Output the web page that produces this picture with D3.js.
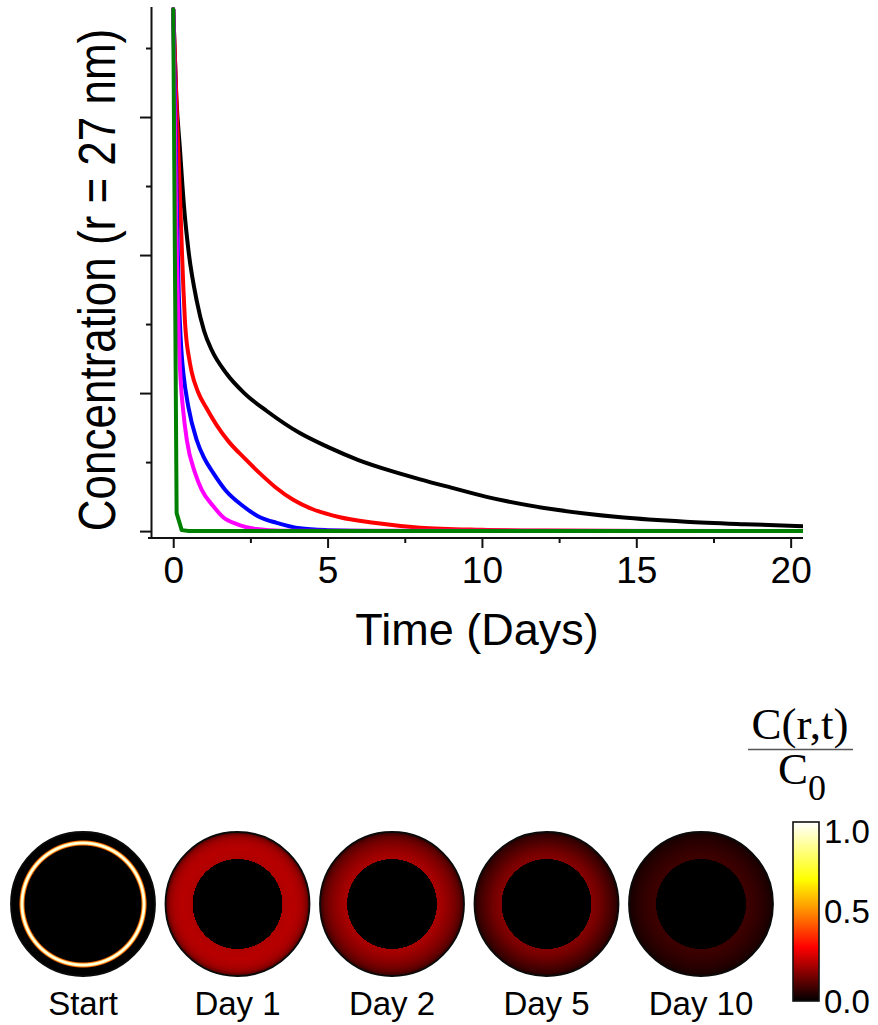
<!DOCTYPE html>
<html>
<head>
<meta charset="utf-8">
<script src="https://cdn.jsdelivr.net/npm/d3@7"></script>
<style>
  body { margin: 0; background: #fff; }
  svg { display: block; }
  text { font-family: "Liberation Sans", Arial, Helvetica, sans-serif; fill: #000; }
</style>
</head>
<body>
<svg id="chart" width="878" height="1025"></svg>
<script>
// ---- Release curves: concentration at r = 27 nm versus time (days) ----
const blackDays = [0, 0.1, 0.22, 0.35, 0.49, 0.76, 1.0, 1.25, 1.73, 2.3, 3.03, 4.1, 5.0, 6.0, 7.0, 8.0, 9.0, 10.15, 12.3, 14.5, 16.6, 18.5, 20.4];
const blackConc = [3.78, 3.15, 2.76, 2.35, 2.04, 1.67, 1.45, 1.31, 1.14, 1.0, 0.87, 0.71, 0.61, 0.515, 0.44, 0.375, 0.315, 0.248, 0.158, 0.10, 0.068, 0.05, 0.036];

const redDays = [0, 0.06, 0.12, 0.17, 0.22, 0.28, 0.33, 0.38, 0.43, 0.5, 0.6, 0.8, 1.08, 1.4, 1.79, 2.3, 2.8, 3.3, 3.9, 4.5, 5.4, 6.5, 8, 10, 12, 15, 20.4];
const redConc = [3.78, 3.4, 3.0, 2.72, 2.42, 2.04, 1.75, 1.52, 1.38, 1.27, 1.15, 1.01, 0.89, 0.77, 0.65, 0.53, 0.42, 0.32, 0.225, 0.16, 0.10, 0.06, 0.025, 0.01, 0.004, 0.001, 0];

const blueDays = [0, 0.06, 0.12, 0.18, 0.24, 0.28, 0.33, 0.49, 0.76, 1.0, 1.3, 1.68, 2.27, 2.81, 3.35, 4.1, 5.0, 6.5, 20.4];
const blueConc = [3.78, 3.1, 2.3, 1.72, 1.40, 1.26, 1.14, 0.90, 0.66, 0.53, 0.42, 0.30, 0.18, 0.10, 0.06, 0.02, 0.007, 0.001, 0];

const magentaDays = [0, 0.05, 0.1, 0.14, 0.17, 0.2, 0.25, 0.31, 0.44, 0.71, 0.92, 1.3, 1.62, 2.06, 2.7, 3.5, 20.4];
const magentaConc = [3.78, 3.0, 2.2, 1.75, 1.48, 1.27, 1.06, 0.90, 0.66, 0.42, 0.30, 0.18, 0.10, 0.05, 0.015, 0.003, 0];

const greenDays = [0, 0.11, 0.275, 0.5, 20.4];
const greenConc = [3.78, 0.13, 0.007, 0, 0];

const seriesColors = ["#000000", "#ff0000", "#0000ff", "#ff00ff", "#008000"];

const xTicks = [0, 5, 10, 15, 20];
const xMinorTicks = [2.5, 7.5, 12.5, 17.5];
const yTicks = [0, 1, 2, 3];
const yMinorTicks = [0.5, 1.5, 2.5, 3.5];
const xTitle = "Time (Days)";
const yTitle = "Concentration (r = 27 nm)";

// ---- Cross-section snapshots: C(r,t)/C0 against fractional radius ----
const snapshotLabels = ["Start", "Day 1", "Day 2", "Day 5", "Day 10"];
const startProfile = [[0, 0], [0.805, 0], [0.82, 0.45], [0.833, 0.9], [0.847, 1], [0.861, 0.9], [0.875, 0.45], [0.89, 0], [1, 0]];
const day1Profile  = [[0, 0], [0.624, 0], [0.625, 0.205], [0.69, 0.21], [0.75, 0.215], [0.81, 0.21], [0.875, 0.2], [0.94, 0.17], [1, 0.09]];
const day2Profile  = [[0, 0], [0.624, 0], [0.625, 0.2], [0.69, 0.19], [0.75, 0.175], [0.81, 0.16], [0.875, 0.14], [0.94, 0.11], [1, 0.06]];
const day5Profile  = [[0, 0], [0.624, 0], [0.625, 0.155], [0.69, 0.145], [0.75, 0.13], [0.81, 0.11], [0.875, 0.09], [0.94, 0.068], [1, 0.04]];
const day10Profile = [[0, 0], [0.624, 0], [0.625, 0.072], [0.69, 0.068], [0.75, 0.062], [0.81, 0.055], [0.875, 0.047], [0.94, 0.037], [1, 0.025]];

const colorbarTicks = [0, 0.5, 1];
const heatStops = [0, 0.3, 0.5, 0.68, 1];
const heatColors = ["#000000", "#ff0000", "#ff8c00", "#ffff00", "#ffffff"];

// ---------------------------------------------------------------
const svg = d3.select("#chart");
const defs = svg.append("defs");

const series = [
  { days: blackDays, conc: blackConc, curve: d3.curveMonotoneX },
  { days: redDays, conc: redConc, curve: d3.curveMonotoneX },
  { days: blueDays, conc: blueConc, curve: d3.curveMonotoneX },
  { days: magentaDays, conc: magentaConc, curve: d3.curveMonotoneX },
  { days: greenDays, conc: greenConc, curve: d3.curveLinear }
].map((s, i) => ({ ...s, color: seriesColors[i], points: s.days.map((d, j) => [d, s.conc[j]]) }));

const x = d3.scaleLinear().domain([-0.72, 20.4]).range([151, 803]);
const y = d3.scaleLinear().domain([-0.05, 3.8]).range([538, 6.6]);

defs.append("clipPath").attr("id", "plot-clip")
  .append("rect").attr("x", 151).attr("y", 0).attr("width", 803 - 151).attr("height", 538);

// curves
const line = d3.line().x(d => x(d[0])).y(d => y(d[1]));
const curveLayer = svg.append("g").attr("clip-path", "url(#plot-clip)");
series.forEach(s => {
  curveLayer.append("path")
    .attr("d", line.curve(s.curve)(s.points))
    .attr("fill", "none")
    .attr("stroke", s.color)
    .attr("stroke-width", 4)
    .attr("stroke-linejoin", "round")
    .attr("stroke-linecap", "round");
});

// axes
function styleAxis(g) {
  g.selectAll("path.domain").attr("stroke", "#111").attr("stroke-width", 2);
  g.selectAll(".tick line").attr("stroke", "#111").attr("stroke-width", 2);
}

const xAxisG = svg.append("g").attr("transform", "translate(0,538)")
  .call(d3.axisBottom(x).tickValues(xTicks).tickSize(10).tickSizeOuter(0).tickFormat(d3.format("d")))
  .call(styleAxis);
xAxisG.selectAll(".tick text")
  .attr("y", 45).attr("dy", 0)
  .style("font-family", "'Liberation Sans', Arial, sans-serif")
  .style("font-size", "37px").attr("fill", "#000");
xAxisG.select("path.domain").attr("d", "M148,0H803");

svg.append("g").attr("transform", "translate(0,538)")
  .call(d3.axisBottom(x).tickValues(xMinorTicks).tickSize(5).tickSizeOuter(0).tickFormat(""))
  .call(styleAxis)
  .select("path.domain").remove();

svg.append("g").attr("transform", "translate(151,0)")
  .call(d3.axisLeft(y).tickValues(yTicks).tickSize(11).tickSizeOuter(0).tickFormat(""))
  .call(styleAxis);

svg.append("g").attr("transform", "translate(151,0)")
  .call(d3.axisLeft(y).tickValues(yMinorTicks).tickSize(5).tickSizeOuter(0).tickFormat(""))
  .call(styleAxis)
  .select("path.domain").remove();

// axis titles
svg.append("text")
  .attr("x", (151 + 803) / 2).attr("y", 645)
  .attr("text-anchor", "middle")
  .style("font-size", "45px")
  .text(xTitle);

// the rotated title uses slightly tall glyphs
svg.append("text")
  .attr("transform", "translate(115,280) rotate(-90) scale(1,1.18)")
  .attr("text-anchor", "middle")
  .style("font-size", "44px")
  .text(yTitle);

// ---- snapshots ----
const heat = d3.scaleLinear().domain(heatStops).range(heatColors).clamp(true);
const profiles = [startProfile, day1Profile, day2Profile, day5Profile, day10Profile];
const snapX = d3.scalePoint().domain(snapshotLabels).range([83, 701]);
const snapY = 904;
const snapR = 72;

profiles.forEach((prof, i) => {
  const grad = defs.append("radialGradient")
    .attr("id", "snap-" + i)
    .attr("cx", 0.5).attr("cy", 0.5).attr("r", 0.5);
  grad.selectAll("stop").data(prof).join("stop")
    .attr("offset", d => d[0])
    .attr("stop-color", d => heat(d[1]));
});

const snaps = svg.append("g").selectAll("g").data(snapshotLabels).join("g")
  .attr("transform", d => `translate(${snapX(d)},${snapY})`);
snaps.append("circle")
  .attr("r", snapR)
  .attr("fill", (d, i) => `url(#snap-${i})`)
  .attr("stroke", "#0a0a0a")
  .attr("stroke-width", 1.8);
snaps.append("text")
  .attr("y", 1015 - snapY)
  .attr("text-anchor", "middle")
  .style("font-size", "33px")
  .text(d => d);

// ---- colour bar ----
const cbX = 793, cbW = 26;
const cbY = d3.scaleLinear().domain([0, 1]).range([1001, 822]);
const cbGrad = defs.append("linearGradient")
  .attr("id", "heat-bar").attr("x1", 0).attr("y1", 1).attr("x2", 0).attr("y2", 0);
cbGrad.selectAll("stop").data(d3.range(0, 1.0001, 0.02)).join("stop")
  .attr("offset", d => d)
  .attr("stop-color", d => heat(d));

svg.append("rect")
  .attr("x", cbX).attr("y", cbY(1))
  .attr("width", cbW).attr("height", cbY(0) - cbY(1))
  .attr("fill", "url(#heat-bar)")
  .attr("stroke", "#111").attr("stroke-width", 1.6);

svg.append("g").selectAll("text").data(colorbarTicks).join("text")
  .attr("x", cbX + cbW + 5)
  .attr("y", d => Math.max(843, Math.min(1013, cbY(d) + 11.5)))
  .style("font-size", "33px")
  .text(d => d3.format(".1f")(d));

// colour bar title: C(r,t) / C0
const serif = "'Liberation Serif', 'Times New Roman', serif";
const title = svg.append("g");
title.append("text")
  .attr("x", 800).attr("y", 739)
  .attr("text-anchor", "middle")
  .style("font-family", serif)
  .style("font-size", "45px")
  .text("C(r,t)");
title.append("line")
  .attr("x1", 748).attr("x2", 853).attr("y1", 749.5).attr("y2", 749.5)
  .attr("stroke", "#555").attr("stroke-width", 1.5);
title.append("text")
  .attr("x", 808).attr("y", 784)
  .attr("text-anchor", "end")
  .style("font-family", serif)
  .style("font-size", "45px")
  .text("C");
title.append("text")
  .attr("x", 808).attr("y", 800)
  .style("font-family", serif)
  .style("font-size", "36px")
  .text("0");
</script>
</body>
</html>
